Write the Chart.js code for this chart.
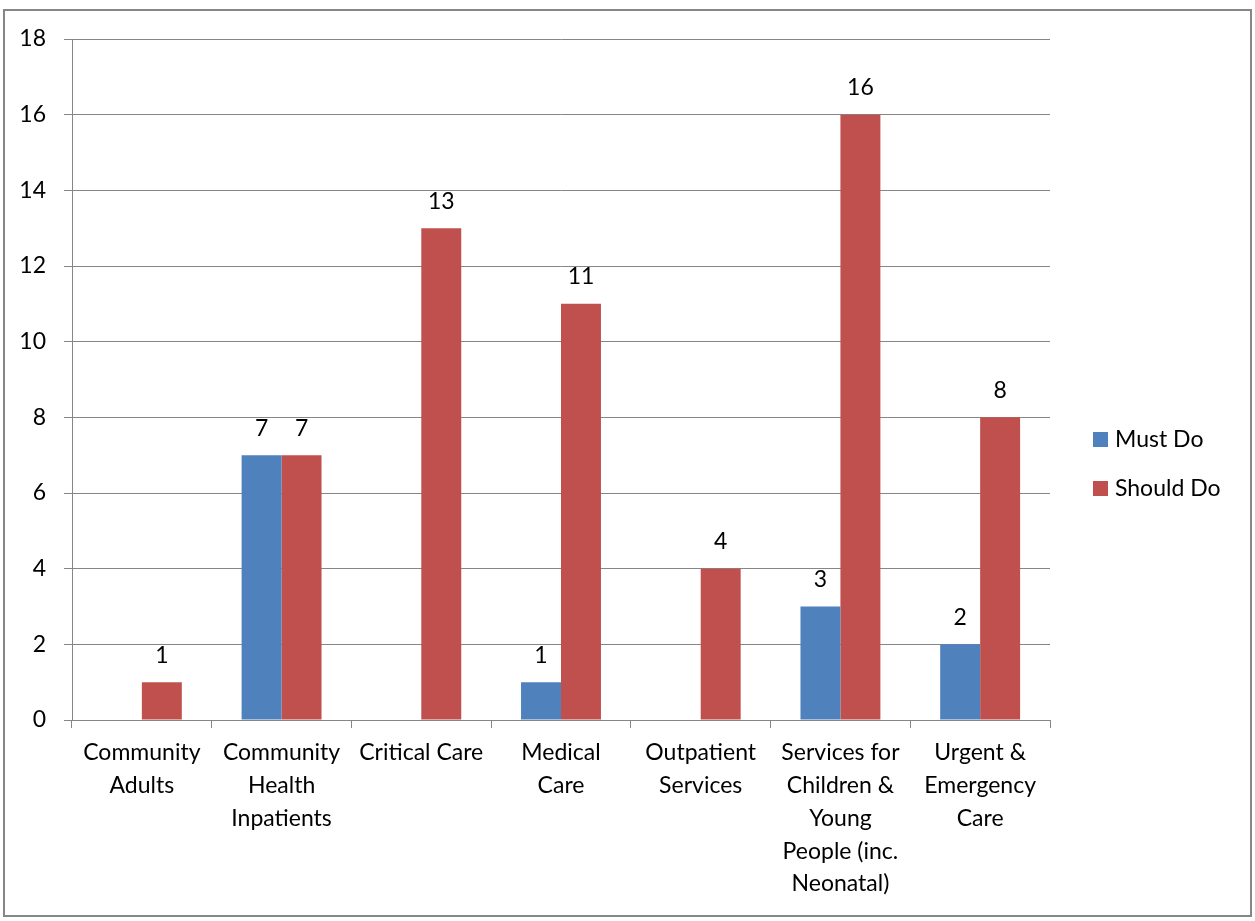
<!DOCTYPE html>
<html>
<head>
<meta charset="utf-8">
<script src="https://cdn.jsdelivr.net/npm/chart.js@4/dist/chart.umd.min.js"></script>
<style>
  html, body { margin: 0; padding: 0; background: #fff; }
  #frame { position: absolute; left: 3px; top: 9px; width: 1245px; height: 904px; border: 2px solid #868686; background: #fff; }
  #c { display: block; }
</style>
</head>
<body>
<div id="frame"><canvas id="c" width="1245" height="904"></canvas></div>
<script>
const categories = [
  ["Community", "Adults"],
  ["Community", "Health", "Inpatients"],
  ["Critical Care"],
  ["Medical", "Care"],
  ["Outpatient", "Services"],
  ["Services for", "Children &", "Young", "People (inc.", "Neonatal)"],
  ["Urgent &", "Emergency", "Care"]
];
const seriesNames = ["Must Do", "Should Do"];
const mustDo = [0, 7, 0, 1, 0, 3, 2];
const shouldDo = [1, 7, 13, 11, 4, 16, 8];
const yTicks = [0, 2, 4, 6, 8, 10, 12, 14, 16, 18];
const colors = ["#4F81BD", "#C0504D"];

const FONT = "Lato, 'Open Sans', 'Noto Sans', sans-serif";
const FSIZE = 23;
const GRID = "#868686";

const labelPlugin = {
  id: 'valueLabels',
  afterDatasetsDraw(chart) {
    const ctx = chart.ctx;
    ctx.save();
    ctx.font = FSIZE + "px " + FONT;
    ctx.fillStyle = "#000";
    ctx.textAlign = "center";
    ctx.textBaseline = "middle";
    chart.data.datasets.forEach((ds, di) => {
      const meta = chart.getDatasetMeta(di);
      meta.data.forEach((el, i) => {
        const v = ds.data[i];
        if (v) ctx.fillText(String(v), el.x, el.y - 27);
      });
    });
    ctx.restore();
  }
};

const legendPlugin = {
  id: 'sideLegend',
  afterDraw(chart) {
    const ctx = chart.ctx;
    const area = chart.chartArea;
    ctx.save();
    ctx.font = FSIZE + "px " + FONT;
    ctx.textBaseline = "middle";
    ctx.textAlign = "left";
    const x0 = area.right + 43;
    const ys = [428, 477];
    chart.data.datasets.forEach((ds, i) => {
      const y = ys[i];
      ctx.fillStyle = ds.backgroundColor;
      ctx.fillRect(x0, y - 7, 15, 15);
      ctx.fillStyle = "#000";
      ctx.fillText(ds.label, x0 + 22, y + 1);
    });
    ctx.restore();
  }
};

new Chart(document.getElementById('c'), {
  type: 'bar',
  data: {
    labels: categories,
    datasets: [
      { label: seriesNames[0], data: mustDo, backgroundColor: colors[0] },
      { label: seriesNames[1], data: shouldDo, backgroundColor: colors[1] }
    ]
  },
  options: {
    responsive: false,
    animation: false,
    devicePixelRatio: 1,
    layout: { padding: { left: 0, top: 28, right: 200, bottom: 0 } },
    datasets: { bar: { barPercentage: 1.0, categoryPercentage: 0.572, borderWidth: 0 } },
    plugins: { legend: { display: false }, tooltip: { enabled: false } },
    scales: {
      x: {
        offset: true,
        grid: { offset: true, drawOnChartArea: false, drawTicks: true, tickLength: 8, color: GRID, lineWidth: 1 },
        border: { display: true, color: GRID, width: 1 },
        ticks: { color: "#000", font: { family: FONT, size: FSIZE, lineHeight: 1.43 }, padding: 8, maxRotation: 0, autoSkip: false },
        afterFit(s) { s.height = 195; }
      },
      y: {
        min: 0, max: 18,
        afterBuildTicks(s) { s.ticks = yTicks.map(v => ({ value: v })); },
        grid: { color: GRID, lineWidth: 1, tickLength: 8, drawTicks: true },
        border: { display: true, color: GRID, width: 1 },
        ticks: { color: "#000", font: { family: FONT, size: FSIZE }, padding: 18 },
        afterFit(s) { s.width = 67; s.paddingTop = 0; s.paddingBottom = 0; }
      }
    }
  },
  plugins: [labelPlugin, legendPlugin]
});
</script>
</body>
</html>
